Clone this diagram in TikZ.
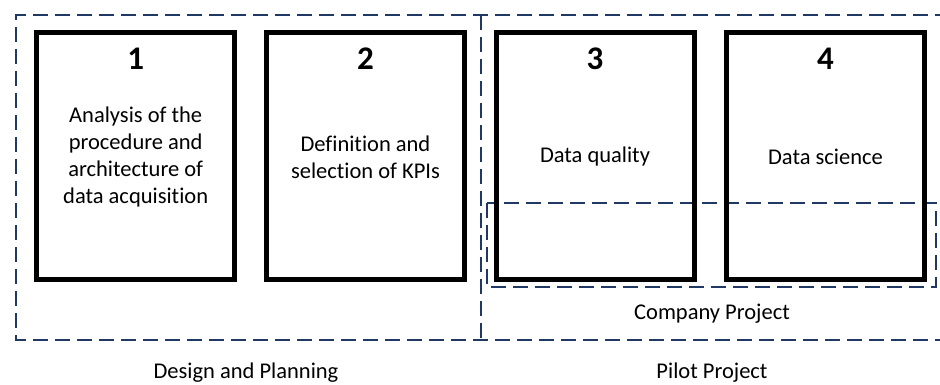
\documentclass[tikz,border=0pt]{standalone}
\usepackage{fontspec}
\setmainfont{Carlito}[Ligatures=CommonOff]
\definecolor{navy}{HTML}{1F3864}
\begin{document}
\begin{tikzpicture}[x=1pt,y=-1pt,
  stage/.style={draw=black,line width=5pt,minimum width=198pt,minimum height=247pt,inner sep=0pt},
  num/.style={font=\fontsize{33}{35}\selectfont\bfseries},
  body/.style={font=\fontsize{22.5}{27}\selectfont,align=center,inner sep=0pt},
  lbl/.style={font=\fontsize{22.5}{25}\selectfont,inner sep=0pt},
  frame/.style={draw=navy,line width=1.4pt,dash pattern=on 15pt off 7pt}]
\clip (0,0) rectangle (940,385);
\fill[white] (0,0) rectangle (940,385);
% outer frame (open on the right)
\draw[frame] (950,15) -- (16,15) -- (16,340) -- (950,340);
\draw[frame] (481,15) -- (481,340);
% company frame
\draw[frame] (487,203) rectangle (936,287);
% stage boxes
\node[stage] (b1) at (135.7,156) {};
\node[stage] (b2) at (365.5,156) {};
\node[stage] (b3) at (595,156) {};
\node[stage] (b4) at (825.5,156) {};
\node[num] (n1) at (135.7,59) {1};
\node[num] (n2) at (365.5,59) {2};
\node[num] (n3) at (595,59) {3};
\node[num] (n4) at (825.5,59) {4};
\node[body] (t1) at (135.7,157) {Analysis of the\\procedure and\\architecture of\\data acquisition};
\node[body] (t2) at (365.5,157) {Definition and\\selection of KPIs};
\node[body] (t3) at (595,157) {Data quality};
\node[body] (t4) at (825.5,157) {Data science};
\node[lbl] (cp) at (712,314) {Company Project};
\node[lbl] (dp) at (246,373) {Design and Planning};
\node[lbl] (pp) at (712,373) {Pilot Project};
\end{tikzpicture}
\end{document}
